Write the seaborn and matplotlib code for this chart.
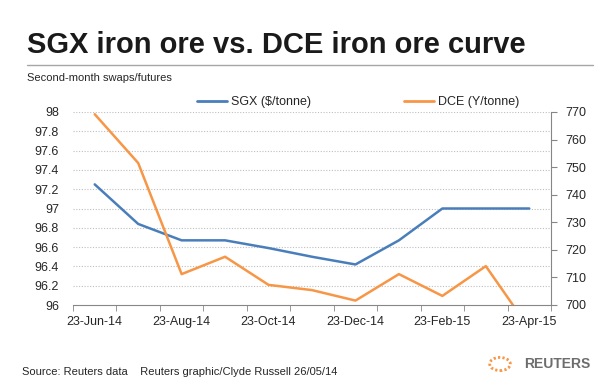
import numpy as np
import pandas as pd
import seaborn as sns
import matplotlib.pyplot as plt
from matplotlib.lines import Line2D
from matplotlib.patches import Circle

# Data (monthly second-month contracts)
months = ["23-Jun-14", "23-Jul-14", "23-Aug-14", "23-Sep-14", "23-Oct-14", "23-Nov-14",
          "23-Dec-14", "23-Jan-15", "23-Feb-15", "23-Mar-15", "23-Apr-15"]
sgx = [97.25, 96.84, 96.67, 96.67, 96.59, 96.50, 96.42, 96.67, 97.0, 97.0, 97.0]
dce = [769.2, 751.5, 711.2, 717.5, 707.3, 705.4, 701.6, 711.2, 703.3, 714.1, 691.5]
left_ticks = [96, 96.2, 96.4, 96.6, 96.8, 97, 97.2, 97.4, 97.6, 97.8, 98]
left_labels = ["96", "96.2", "96.4", "96.6", "96.8", "97", "97.2", "97.4", "97.6", "97.8", "98"]
right_ticks = [700, 710, 720, 730, 740, 750, 760, 770]

df = pd.DataFrame({"month": months, "pos": range(len(months)), "sgx": sgx, "dce": dce})

blue = "#4A7EBB"
orange = "#F79646"
grey = "#868686"
txt = "#262626"

sns.set_style("white")
plt.rcParams["font.family"] = ["Liberation Sans", "DejaVu Sans"]

fig = plt.figure(figsize=(6.07, 3.87), dpi=100)
ax = fig.add_axes([73 / 607, 1 - 305 / 387, 478 / 607, 193 / 387])

sns.lineplot(data=df, x="pos", y="sgx", ax=ax, color=blue, linewidth=1.8, label="SGX ($/tonne)", legend=False)
ax2 = ax.twinx()
sns.lineplot(data=df, x="pos", y="dce", ax=ax2, color=orange, linewidth=1.8, label="DCE (Y/tonne)", legend=False)

ax.set_xlim(-0.5, len(months) - 0.5)
ax.set_ylim(96, 98)
ax2.set_ylim(700, 770)

# x axis: labels every other month, tick marks at category boundaries
ax.set_xticks(df["pos"][::2], df["month"][::2])
ax.set_xticks(np.arange(-0.5, len(months), 1), minor=True)
ax.tick_params(axis="x", which="major", length=0, pad=8, labelsize=9, labelcolor=txt)
ax.tick_params(axis="x", which="minor", length=4, color=grey, direction="out", bottom=True)

ax.set_yticks(left_ticks, left_labels)
ax.tick_params(axis="y", length=0, pad=10, labelsize=9, labelcolor=txt)
ax2.set_yticks(right_ticks)
ax2.tick_params(axis="y", length=4, color=grey, direction="out", pad=6, labelsize=9, labelcolor=txt, right=True)

for t in left_ticks[1:]:
    ax.axhline(t, color="#BFBFBF", linestyle=(0, (1, 1.5)), linewidth=0.8, zorder=0)

for a in (ax, ax2):
    a.set_xlabel("")
    a.set_ylabel("")
    for s in ("top", "left"):
        a.spines[s].set_visible(False)
    a.spines["bottom"].set_color(grey)
    a.spines["right"].set_color(grey)
ax.spines["right"].set_visible(False)
ax2.spines["bottom"].set_visible(False)

handles = [Line2D([], [], color=blue, lw=2), Line2D([], [], color=orange, lw=2)]
fig.legend(handles, ["SGX ($/tonne)", "DCE (Y/tonne)"], loc="center", bbox_to_anchor=(0.59, 1 - 102 / 387),
           ncol=2, frameon=False, fontsize=9, handlelength=2.4, handletextpad=0.3, columnspacing=7.5,
           labelcolor=txt)

# header
fig.text(27 / 607, 1 - 45 / 387, "SGX iron ore vs. DCE iron ore curve", fontsize=21, fontweight="bold",
         color="#1a1a1a", va="center", ha="left")
fig.add_artist(Line2D([27 / 607, 593 / 607], [1 - 65 / 387] * 2, color="#A6A6A6", lw=1))
fig.text(27 / 607, 1 - 78 / 387, "Second-month swaps/futures", fontsize=8, color=txt, va="center", ha="left")

# footer
fig.text(22 / 607, 1 - 372 / 387, "Source: Reuters data    Reuters graphic/Clyde Russell 26/05/14",
         fontsize=8, color=txt, va="center", ha="left")
fig.add_artist(Circle((500 / 607, 1 - 364 / 387), 0.017, transform=fig.transFigure, fill=False,
                      edgecolor=orange, lw=2.0, linestyle=(0, (0.8, 0.8))))
fig.text(590 / 607, 1 - 364 / 387, "REUTERS", fontsize=10, fontweight="bold", color="#6d6d6d",
         va="center", ha="right")

fig.savefig("out.png", dpi=100)
